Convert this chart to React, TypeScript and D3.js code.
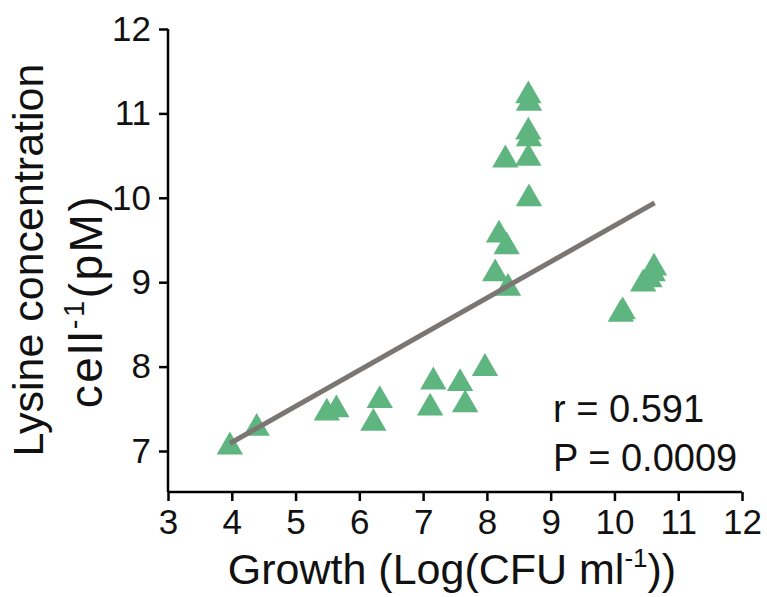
import React, { useEffect, useRef } from "react";
import * as d3 from "d3";

// growth (log CFU/ml) vs lysine per cell (pM)
const growth = [
  3.97, 4.39, 5.49, 5.64, 6.22, 6.32, 7.11, 7.16, 7.58, 7.66, 7.97,
  8.65, 8.66, 8.65, 8.66, 8.65, 8.29, 8.66, 8.19, 8.31, 8.13, 8.33,
  10.13, 10.1, 10.45, 10.55, 10.6, 10.62,
];
const lysine = [
  7.05, 7.27, 7.45, 7.49, 7.33, 7.6, 7.51, 7.82, 7.8, 7.55, 7.98,
  11.21, 11.12, 10.78, 10.7, 10.47, 10.45, 9.99, 9.56, 9.42, 9.1, 8.93,
  8.65, 8.62, 8.98, 9.03, 9.1, 9.17,
];
const fitRange = [3.97, 10.63];
const fitSlope = 0.428;
const fitIntercept = 5.39;
const xTicks = [3, 4, 5, 6, 7, 8, 9, 10, 11, 12];
const yTicks = [7, 8, 9, 10, 11, 12];
const stats = ["r = 0.591", "P = 0.0009"];

export default function App() {
  const ref = useRef<SVGSVGElement>(null);

  useEffect(() => {
    const svg = d3.select(ref.current);
    svg.selectAll("*").remove();

    const x = d3.scaleLinear().domain([3, 12]).range([168, 742]);
    const y = d3.scaleLinear().domain([7, 12]).range([451, 29]);
    const yBottom = 492;

    const font = "'Liberation Sans', Arial, sans-serif";

    // x axis
    const xa = svg.append("g")
      .attr("transform", `translate(0,${yBottom})`)
      .call(d3.axisBottom(x).tickValues(xTicks).tickSize(9).tickSizeOuter(0).tickPadding(8).tickFormat(d3.format("d")));
    xa.select(".domain").attr("stroke", "#000").attr("stroke-width", 2.5)
      .attr("d", `M${x(3)},0H${x(12)}`);
    xa.selectAll(".tick line").attr("stroke", "#000").attr("stroke-width", 2.5);
    xa.selectAll(".tick text").attr("font-size", 35).attr("font-family", font).attr("fill", "#111");

    // y axis
    const ya = svg.append("g")
      .attr("transform", `translate(${x(3)},0)`)
      .call(d3.axisLeft(y).tickValues(yTicks).tickSize(9).tickSizeOuter(0).tickPadding(8).tickFormat(d3.format("d")));
    ya.select(".domain").attr("stroke", "#000").attr("stroke-width", 2.5)
      .attr("d", `M0,${y(12)}V${yBottom}`);
    ya.selectAll(".tick line").attr("stroke", "#000").attr("stroke-width", 2.5);
    ya.selectAll(".tick text").attr("font-size", 35).attr("font-family", font).attr("fill", "#111");

    // points
    const data = growth.map((g, i) => ({ g, l: lysine[i] }));
    svg.append("g")
      .selectAll("path")
      .data(data)
      .join("path")
      .attr("d", d3.symbol(d3.symbolTriangle, 300)())
      .attr("transform", d => `translate(${x(d.g)},${y(d.l)})`)
      .attr("fill", "#5fb57f");

    // regression line
    svg.append("line")
      .attr("x1", x(fitRange[0]))
      .attr("y1", y(fitIntercept + fitSlope * fitRange[0]))
      .attr("x2", x(fitRange[1]))
      .attr("y2", y(fitIntercept + fitSlope * fitRange[1]))
      .attr("stroke", "#7a7673")
      .attr("stroke-width", 5);

    // stats
    svg.append("g")
      .selectAll("text")
      .data(stats)
      .join("text")
      .attr("x", 553)
      .attr("y", (d, i) => 422 + i * 49)
      .attr("font-size", 38)
      .attr("font-family", font)
      .attr("fill", "#111")
      .text(d => d);

    // x label
    const xl = svg.append("text")
      .attr("x", 452)
      .attr("y", 584)
      .attr("text-anchor", "middle")
      .attr("font-size", 43)
      .attr("font-family", font)
      .attr("fill", "#111");
    xl.append("tspan").text("Growth (Log(CFU ml");
    xl.append("tspan").attr("font-size", 26).attr("dy", -17).text("-1");
    xl.append("tspan").attr("dy", 17).text("))");

    // y label
    svg.append("text")
      .attr("transform", `translate(43,260) rotate(-90)`)
      .attr("text-anchor", "middle")
      .attr("font-size", 43)
      .attr("font-family", font)
      .attr("fill", "#111")
      .text("Lysine concentration");
    const yl = svg.append("text")
      .attr("transform", `translate(102,301) rotate(-90)`)
      .attr("text-anchor", "middle")
      .attr("font-size", 46)
      .attr("letter-spacing", 2.5)
      .attr("font-family", font)
      .attr("fill", "#111");
    yl.append("tspan").text("cell");
    yl.append("tspan").attr("font-size", 29).attr("dy", -18).text("-1");
    yl.append("tspan").attr("dy", 18).text("(pM)");
  }, []);

  return (
    <svg
      ref={ref}
      width={767}
      height={597}
      style={{ position: "absolute", left: 0, top: 0, background: "#fff" }}
    />
  );
}
